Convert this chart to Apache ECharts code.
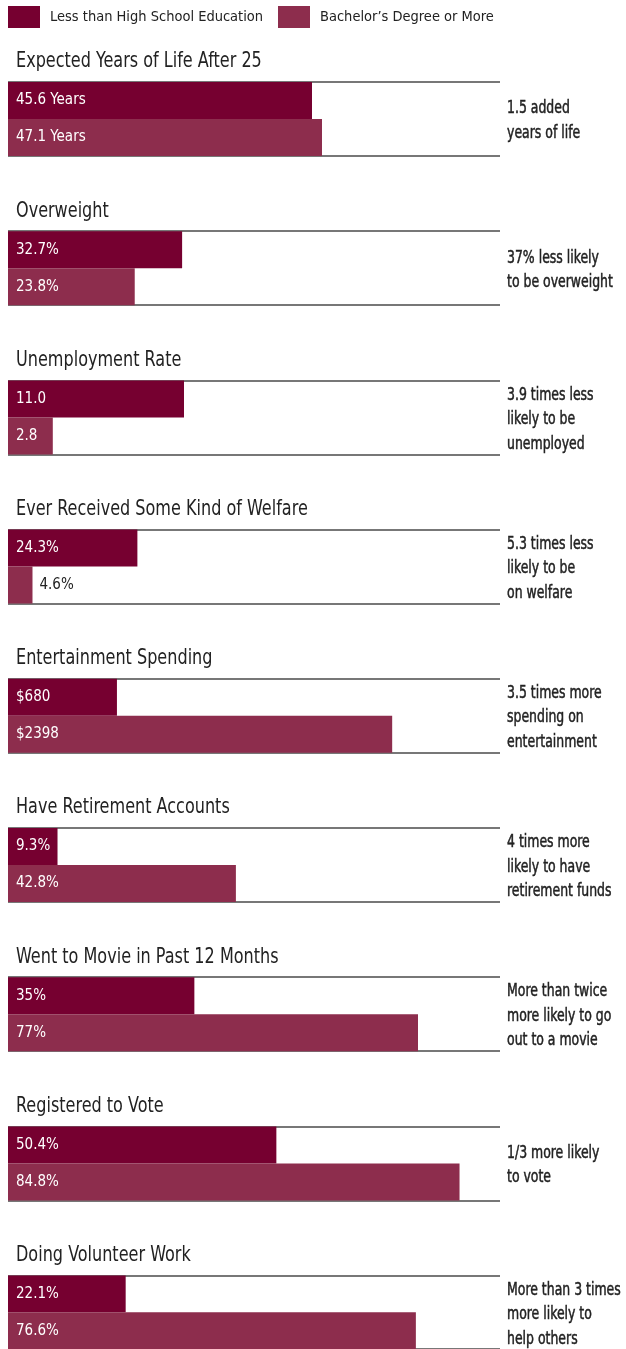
<!DOCTYPE html>
<html><head><meta charset="utf-8">
<script src="https://cdn.jsdelivr.net/npm/echarts@6/dist/echarts.min.js"></script>
<style>html,body{margin:0;padding:0;background:#fff}#c{width:626px;height:1349px}</style>
</head><body><div id="c"></div>
<script>
const seriesNames = ['Less than High School Education', 'Bachelor\u2019s Degree or More'];
const categories = ['Expected Years of Life After 25', 'Overweight', 'Unemployment Rate', 'Ever Received Some Kind of Welfare', 'Entertainment Spending', 'Have Retirement Accounts', 'Went to Movie in Past 12 Months', 'Registered to Vote', 'Doing Volunteer Work'];
const lessHS = [45.6, 32.7, 11.0, 24.3, 680, 9.3, 35, 50.4, 22.1];
const bachelor = [47.1, 23.8, 2.8, 4.6, 2398, 42.8, 77, 84.8, 76.6];
const labelsLess = ['45.6 Years', '32.7%', '11.0', '24.3%', '$680', '9.3%', '35%', '50.4%', '22.1%'];
const labelsBach = ['47.1 Years', '23.8%', '2.8', '4.6%', '$2398', '42.8%', '77%', '84.8%', '76.6%'];
const axisMax = [73.8, 92.4, 30.75, 92.4, 3071, 92.4, 92.4, 92.4, 92.4];
const notes = ['1.5 added\nyears of life', '37% less likely\nto be overweight', '3.9 times less\nlikely to be\nunemployed', '5.3 times less\nlikely to be\non welfare', '3.5 times more\nspending on\nentertainment', '4 times more\nlikely to have\nretirement funds', 'More than twice\nmore likely to go\nout to a movie', '1/3 more likely\nto vote', 'More than 3 times\nmore likely to\nhelp others'];

const FONT = "'DejaVu Sans Condensed', 'DejaVu Sans', sans-serif";
const C1 = '#760030', C2 = '#8d2d4d', TXT = '#222';
const GL = 8, GW = 492, GH = 74, TOP0 = 82, STEP = 149.2;

const grids = [], xAxes = [], yAxes = [], series = [], graphics = [];
categories.forEach((cat, i) => {
  const top = TOP0 + i * STEP;
  grids.push({ left: GL, top: top, width: GW, height: GH, containLabel: false });
  xAxes.push({ gridIndex: i, type: 'value', min: 0, max: axisMax[i], show: false });
  yAxes.push({ gridIndex: i, type: 'category', data: [cat], inverse: true,
    axisLine: { show: false }, axisTick: { show: false }, axisLabel: { show: false },
    splitLine: { show: true, lineStyle: { color: '#777', width: 2 } } });
  const mk = (name, val, lab, color) => {
    const outside = val / axisMax[i] < 0.07;
    return {
      type: 'bar', name: name, xAxisIndex: i, yAxisIndex: i, data: [val],
      barGap: '0%', barCategoryGap: '0%', itemStyle: { color: color },
      emphasis: { disabled: true }, silent: true, animation: false,
      label: { show: true, position: outside ? 'right' : 'insideLeft', distance: outside ? 7 : 8,
        formatter: () => lab, color: outside ? TXT : '#fff', fontFamily: FONT, fontSize: 15 }
    };
  };
  series.push(mk(seriesNames[0], lessHS[i], labelsLess[i], C1));
  series.push(mk(seriesNames[1], bachelor[i], labelsBach[i], C2));
  graphics.push({ type: 'text', x: 16, y: top - 20, scaleX: 0.85,
    style: { text: cat, fill: TXT, font: '21px ' + FONT, verticalAlign: 'middle' } });
  graphics.push({ type: 'text', x: 507, y: top + 39, scaleX: 0.77,
    style: { text: notes[i], fill: TXT, stroke: TXT, lineWidth: 0.5, font: '18px ' + FONT, lineHeight: 24.5, verticalAlign: 'middle' } });
});

const legendBase = { top: 6, padding: 0, itemWidth: 32, itemHeight: 22, icon: 'rect', selectedMode: false,
  textStyle: { fontFamily: FONT, fontSize: 14.5, color: TXT, padding: [12, 0, 0, 5] } };

const chart = echarts.init(document.getElementById('c'), null, { renderer: 'canvas' });
chart.setOption({
  animation: false,
  color: [C1, C2],
  legend: [
    Object.assign({}, legendBase, { data: [seriesNames[0]], left: 8 }),
    Object.assign({}, legendBase, { data: [seriesNames[1]], left: 278 })
  ],
  grid: grids, xAxis: xAxes, yAxis: yAxes, series: series, graphic: graphics
});
</script></body></html>
